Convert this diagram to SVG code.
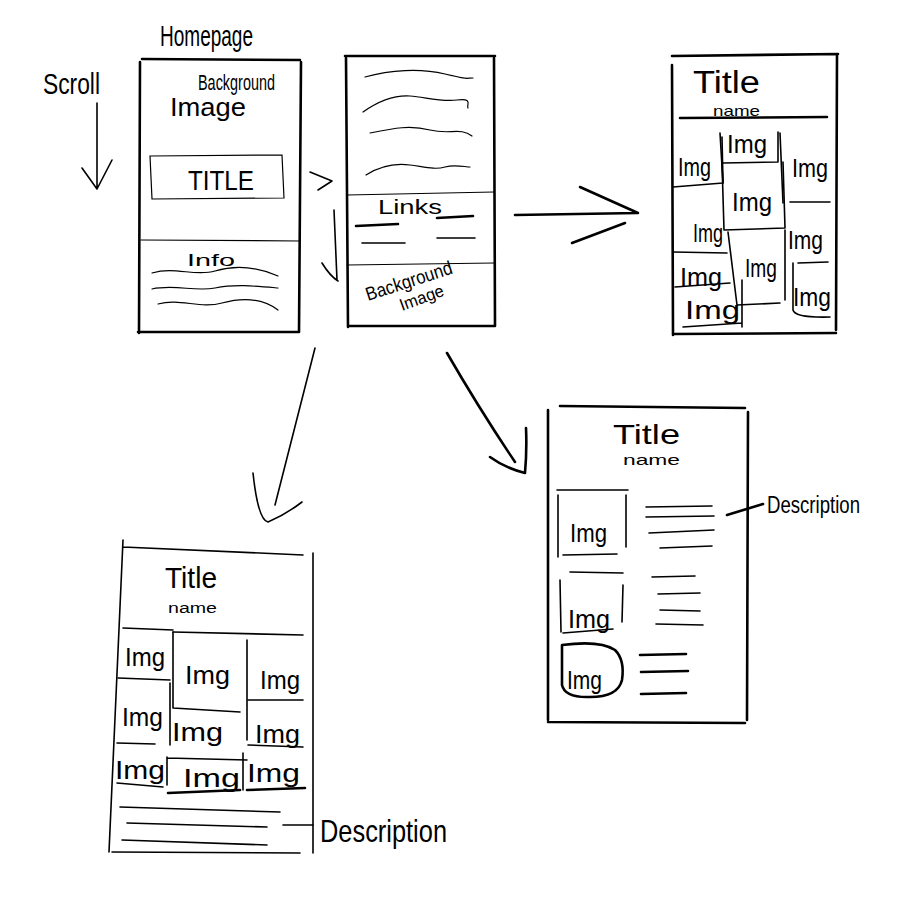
<svg xmlns="http://www.w3.org/2000/svg" width="900" height="900" viewBox="0 0 900 900">
<style>
.s{fill:none;stroke:#000;stroke-width:1.6;stroke-linecap:round;stroke-linejoin:round}
.t{fill:none;stroke:#000;stroke-width:2.6;stroke-linecap:round;stroke-linejoin:round}
.f{fill:none;stroke:#000;stroke-width:1.2;stroke-linecap:round}
text{font-family:"Liberation Sans","DejaVu Sans",sans-serif;fill:#000}
.img{font-size:25px}
</style>
<rect width="900" height="900" fill="#fff"/>

<g id="scroll">
<text x="43" y="94" font-size="30" textLength="57" lengthAdjust="spacingAndGlyphs">Scroll</text>
<path class="s" d="M97,103 L97,188 M82,168 L97,189 L112,160"/>
</g>

<g id="homepage">
<text x="160" y="46" font-size="30" textLength="93" lengthAdjust="spacingAndGlyphs">Homepage</text>
<path class="t" d="M142,59 L300,60 M140,62 L139,333 M301,62 L299,332 M138,332 L298,332"/>
<path class="f" d="M141,240 L300,241"/>
<text x="198" y="90" font-size="22" textLength="77" lengthAdjust="spacingAndGlyphs">Background</text>
<text x="170" y="116" font-size="26" textLength="76" lengthAdjust="spacingAndGlyphs">Image</text>
<path class="f" d="M150,156 L282,155 L284,198 L152,199 Z"/>
<text x="188" y="190" font-size="28" textLength="66" lengthAdjust="spacingAndGlyphs" font-family="DejaVu Sans, sans-serif" font-weight="200" fill="#333">TITLE</text>
<text x="187" y="266" font-size="17" textLength="48" lengthAdjust="spacingAndGlyphs">Info</text>
<path class="f" d="M152,273 C175,266 195,277 215,271 S255,266 278,276"/>
<path class="f" d="M152,289 C175,284 195,292 215,288 S255,286 278,288"/>
<path class="f" d="M158,304 C180,298 200,309 222,303 S262,298 278,310"/>
</g>

<g id="scroll-page">
<path class="t" d="M345,56 L495,56 M346,58 L348,327 M494,58 L495,326 M348,326 L494,326"/>
<path class="f" d="M347,195 L494,192 M347,265 L494,263"/>
<path class="f" d="M365,77 C390,70 420,68 445,74 S465,78 473,78"/>
<path class="f" d="M363,112 C380,100 395,95 410,96 S440,102 457,100 S466,105 468,108"/>
<path class="f" d="M370,133 C395,128 410,125 430,130 S460,127 472,136"/>
<path class="f" d="M366,175 C380,166 395,163 410,165 S435,170 445,167 S465,167 470,167"/>
<text x="378" y="214" font-size="20" textLength="64" lengthAdjust="spacingAndGlyphs">Links</text>
<path class="t" d="M356,226 L398,224 M437,218 L473,216"/>
<path class="s" d="M362,243 L405,243 M437,238 L475,238"/>
<text x="368" y="301" font-size="19" textLength="90" lengthAdjust="spacingAndGlyphs" transform="rotate(-18 368 301)">Background</text>
<text x="402" y="311" font-size="17" textLength="46" lengthAdjust="spacingAndGlyphs" transform="rotate(-20 402 311)">Image</text>
</g>

<g id="gallery-masonry">
<path class="t" d="M672,56 L838,54 M672,65 L673,335 M837,55 L836,330 M673,334 L836,333"/>
<text x="693" y="93" font-size="31" textLength="67" lengthAdjust="spacingAndGlyphs">Title</text>
<text x="713" y="116" font-size="15" textLength="47" lengthAdjust="spacingAndGlyphs">name</text>
<path class="t" d="M680,118 L827,117"/>
<path class="s" d="M673,187 L723,183 M722,137 L723,183"/>
<path class="s" d="M720,133 L723,183 M778,132 L778,162 M723,163 L778,162"/>
<path class="s" d="M722,163 L724,230 M783,162 L785,228 M724,230 L785,228"/>
<path class="s" d="M780,133 L783,203 M790,202 L830,202"/>
<path class="s" d="M673,252 L727,253"/>
<path class="s" d="M728,232 L737,305 M737,305 L780,303 M785,230 L785,300"/>
<path class="s" d="M798,263 L828,262"/>
<path class="s" d="M793,263 L793,310 Q795,318 830,317"/>
<path class="s" d="M675,287 L730,283"/>
<path class="s" d="M683,327 L742,323 M742,280 L742,327"/>
<text class="img" x="678" y="176" textLength="33" lengthAdjust="spacingAndGlyphs">Img</text>
<text class="img" x="727" y="153" textLength="40" lengthAdjust="spacingAndGlyphs">Img</text>
<text class="img" x="732" y="211" textLength="40" lengthAdjust="spacingAndGlyphs">Img</text>
<text class="img" x="792" y="177" textLength="36" lengthAdjust="spacingAndGlyphs">Img</text>
<text class="img" x="693" y="242" textLength="30" lengthAdjust="spacingAndGlyphs">Img</text>
<text class="img" x="745" y="277" textLength="32" lengthAdjust="spacingAndGlyphs">Img</text>
<text class="img" x="788" y="249" textLength="35" lengthAdjust="spacingAndGlyphs">Img</text>
<text class="img" x="793" y="306" textLength="38" lengthAdjust="spacingAndGlyphs">Img</text>
<text class="img" x="680" y="286" textLength="42" lengthAdjust="spacingAndGlyphs">Img</text>
<text class="img" x="685" y="319" textLength="55" lengthAdjust="spacingAndGlyphs">Img</text>
</g>

<g id="gallery-list">
<path class="t" d="M560,406 L745,408 M548,410 L548,720 M748,412 L747,720 M548,722 L745,723"/>
<text x="613" y="444" font-size="28" textLength="67" lengthAdjust="spacingAndGlyphs">Title</text>
<text x="623" y="465" font-size="15" textLength="57" lengthAdjust="spacingAndGlyphs">name</text>
<path class="s" d="M557,490 L628,490 M558,495 L558,557 M626,495 L626,547 M563,555 L617,554"/>
<text class="img" x="570" y="542" textLength="37" lengthAdjust="spacingAndGlyphs">Img</text>
<path class="s" d="M646,507 L712,506 M646,517 L714,516 M649,533 L714,530 M660,548 L712,546"/>
<path class="s" d="M570,572 L623,573 M560,580 L561,632 M623,585 L622,622 M563,633 L613,629"/>
<text class="img" x="568" y="628" textLength="42" lengthAdjust="spacingAndGlyphs">Img</text>
<path class="s" d="M652,577 L695,576 M658,594 L700,593 M660,610 L700,611 M656,624 L703,625"/>
<path class="t" d="M562,645 Q600,640 615,650 Q625,660 622,680 Q618,697 590,697 Q565,698 562,685 Z" stroke-width="2"/>
<text class="img" x="567" y="689" textLength="35" lengthAdjust="spacingAndGlyphs">Img</text>
<path class="t" d="M640,655 L686,654 M641,672 L688,671 M641,694 L686,693"/>
<path class="t" d="M727,515 L763,504"/>
<text x="767" y="513" font-size="23" textLength="93" lengthAdjust="spacingAndGlyphs">Description</text>
</g>

<g id="gallery-grid">
<path class="s" d="M123,547 L303,555 M123,540 L109,852 M313,553 L313,853 M112,852 L300,853"/>
<text x="165" y="588" font-size="30" textLength="52" lengthAdjust="spacingAndGlyphs">Title</text>
<text x="168" y="613" font-size="14" textLength="49" lengthAdjust="spacingAndGlyphs">name</text>
<path class="s" d="M123,628 L173,630 M173,632 L303,635"/>
<path class="s" d="M118,678 L170,680"/>
<path class="s" d="M173,632 L173,708 M173,708 L240,712 M247,640 L247,740"/>
<path class="s" d="M248,700 L303,700"/>
<path class="s" d="M170,683 L170,745 M117,743 L155,744"/>
<path class="s" d="M248,745 L303,747"/>
<path class="s" d="M167,758 L247,760 M167,757 L167,785"/>
<path class="s" d="M117,783 L163,787"/>
<path class="t" d="M168,793 L240,790"/>
<path class="t" d="M247,790 L305,788"/>
<path class="s" d="M243,753 L243,790"/>
<text class="img" x="125" y="666" textLength="40" lengthAdjust="spacingAndGlyphs">Img</text>
<text class="img" x="185" y="684" textLength="45" lengthAdjust="spacingAndGlyphs">Img</text>
<text class="img" x="260" y="689" textLength="40" lengthAdjust="spacingAndGlyphs">Img</text>
<text class="img" x="122" y="726" textLength="41" lengthAdjust="spacingAndGlyphs">Img</text>
<text class="img" x="172" y="741" textLength="51" lengthAdjust="spacingAndGlyphs">Img</text>
<text class="img" x="255" y="743" textLength="45" lengthAdjust="spacingAndGlyphs">Img</text>
<text class="img" x="115" y="779" textLength="50" lengthAdjust="spacingAndGlyphs">Img</text>
<text class="img" x="183" y="787" textLength="57" lengthAdjust="spacingAndGlyphs">Img</text>
<text class="img" x="247" y="782" textLength="53" lengthAdjust="spacingAndGlyphs">Img</text>
<path class="s" d="M120,807 L280,812 M127,823 L267,827 M122,840 L267,845"/>
<path class="s" d="M283,825 L313,825"/>
<text x="320" y="842" font-size="32" textLength="127" lengthAdjust="spacingAndGlyphs">Description</text>
</g>

<g id="connectors">
<path class="s" d="M310,172 L332,181 L318,190"/>
<path class="s" d="M334,210 L337,280 M322,263 Q330,276 338,281"/>
<path class="t" d="M515,215 L638,213 M580,187 L638,213 M572,243 L625,223"/>
<path class="s" d="M315,348 L275,505 M253,473 Q258,520 268,522 Q285,515 302,502"/>
<path class="t" d="M447,353 Q480,410 515,462 M490,457 Q505,468 525,473 Q527,450 526,428" stroke-width="2"/>
</g>
</svg>
